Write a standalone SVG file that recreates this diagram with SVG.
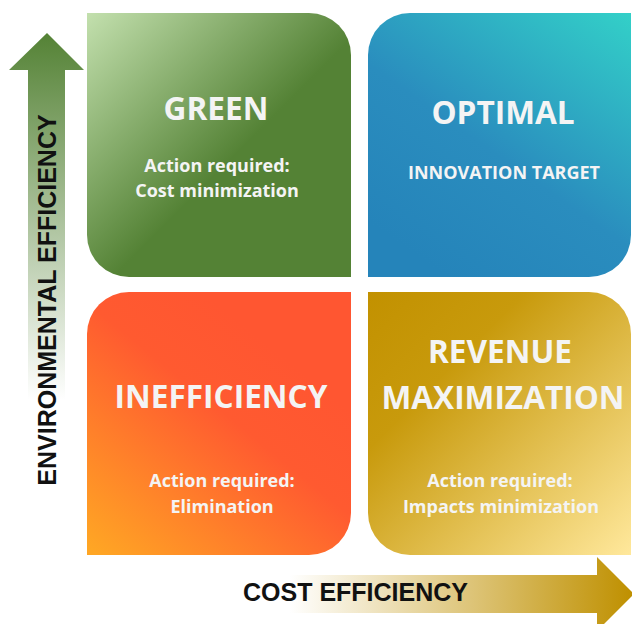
<svg xmlns="http://www.w3.org/2000/svg" width="632" height="624" viewBox="0 0 632 624">
  <defs>
    <linearGradient id="gGreen" x1="0" y1="0" x2="1" y2="1">
      <stop offset="0" stop-color="#c3e0ae"/>
      <stop offset="0.55" stop-color="#548235"/>
      <stop offset="1" stop-color="#548235"/>
    </linearGradient>
    <linearGradient id="gBlue" x1="1" y1="0" x2="0.3" y2="1">
      <stop offset="0" stop-color="#33d0c8"/>
      <stop offset="0.6" stop-color="#2a8dbe"/>
      <stop offset="1" stop-color="#2584ba"/>
    </linearGradient>
    <linearGradient id="gOrange" x1="0.75" y1="0.25" x2="0.1" y2="1.05">
      <stop offset="0" stop-color="#ff5631"/>
      <stop offset="0.3" stop-color="#ff5a30"/>
      <stop offset="1" stop-color="#ffa624"/>
    </linearGradient>
    <linearGradient id="gGold" x1="0" y1="0" x2="1" y2="1">
      <stop offset="0" stop-color="#c29100"/>
      <stop offset="0.3" stop-color="#c89a0c"/>
      <stop offset="1" stop-color="#ffe89c"/>
    </linearGradient>
    <linearGradient id="gVArrow" gradientUnits="userSpaceOnUse" x1="0" y1="33" x2="0" y2="400">
      <stop offset="0" stop-color="#548235"/>
      <stop offset="1" stop-color="#ffffff"/>
    </linearGradient>
    <linearGradient id="gHArrow" gradientUnits="userSpaceOnUse" x1="290" y1="0" x2="632" y2="0">
      <stop offset="0" stop-color="#ffffff"/>
      <stop offset="1" stop-color="#bf9000"/>
    </linearGradient>
  </defs>
  <style>
    .title { font-family: "Open Sans", "Liberation Sans", sans-serif; font-weight: 700; font-size: 31.6px; fill: #f4f4f4; text-anchor: middle; }
    .sub { font-family: "Open Sans", "Liberation Sans", sans-serif; font-weight: 700; font-size: 18px; fill: #f4f4f4; text-anchor: middle; }
    .axis { font-family: "Liberation Sans", Arial, sans-serif; font-weight: 700; font-size: 25px; fill: #111111; }
  </style>

  <g id="axes">
    <path id="v-arrow" d="M28,490 L28,70 L9,70 L47,33 L84,70 L65,70 L65,490 Z" fill="url(#gVArrow)"/>
    <path id="h-arrow" d="M240,575 L597,575 L597,557 L634,594 L597,631 L597,613 L240,613 Z" fill="url(#gHArrow)"/>
  </g>

  <g id="quad-green">
    <path d="M87,13 L309,13 A42,42 0 0 1 351,55 L351,277 L129,277 A42,42 0 0 1 87,235 Z" fill="url(#gGreen)"/>
    <text class="title" x="216" y="120">GREEN</text>
    <text class="sub" x="217" y="172">Action required:</text>
    <text class="sub" x="217" y="197">Cost minimization</text>
  </g>

  <g id="quad-optimal">
    <path d="M410,13 L631,13 L631,235 A42,42 0 0 1 589,277 L368,277 L368,55 A42,42 0 0 1 410,13 Z" fill="url(#gBlue)"/>
    <text class="title" x="503" y="124">OPTIMAL</text>
    <text class="sub" x="504" y="179">INNOVATION TARGET</text>
  </g>

  <g id="quad-inefficiency">
    <path d="M129,292 L351,292 L351,513 A42,42 0 0 1 309,555 L87,555 L87,334 A42,42 0 0 1 129,292 Z" fill="url(#gOrange)"/>
    <text class="title" x="221" y="408">INEFFICIENCY</text>
    <text class="sub" x="222" y="487">Action required:</text>
    <text class="sub" x="222" y="513">Elimination</text>
  </g>

  <g id="quad-revenue">
    <path d="M368,292 L589,292 A42,42 0 0 1 631,334 L631,555 L410,555 A42,42 0 0 1 368,513 Z" fill="url(#gGold)"/>
    <text class="title" x="500" y="363">REVENUE</text>
    <text class="title" x="503" y="409">MAXIMIZATION</text>
    <text class="sub" x="500" y="487">Action required:</text>
    <text class="sub" x="501" y="513">Impacts minimization</text>
  </g>

  <g id="axis-labels">
    <text class="axis" text-anchor="middle" transform="translate(56,300) rotate(-90)">ENVIRONMENTAL EFFICIENCY</text>
    <text class="axis" x="243" y="601">COST EFFICIENCY</text>
  </g>
</svg>
